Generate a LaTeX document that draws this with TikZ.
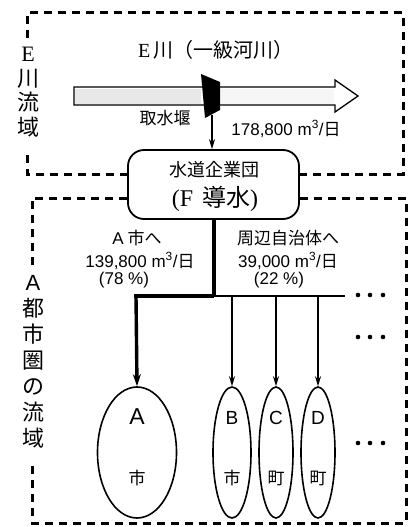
\documentclass[tikz,border=0pt]{standalone}
\usepackage{fontspec}
\setmainfont{Noto Sans CJK JP}
\newfontfamily\serif{Liberation Serif}
\newfontfamily\lat{Liberation Sans}
\usetikzlibrary{arrows.meta,shapes.geometric}
\tikzset{
  bdash/.style={line width=3pt, dash pattern=on 8pt off 6pt},
  txt/.style={inner sep=0pt, font=\fontsize{17}{17}\selectfont},
  town/.style={draw, ellipse, line width=1.6pt, minimum height=131pt, inner sep=0pt},
  feed/.style={line width=1.4pt, -{Stealth[length=10pt,width=6pt]}},
  bigfeed/.style={line width=3.4pt, -{Stealth[length=12pt,width=8pt]}},
}
\begin{document}
\begin{tikzpicture}[x=1pt,y=-1pt]
\useasboundingbox (0,0) rectangle (410,527);
% dashed catchment boxes
\draw[bdash] (27,38) -- (27,13) -- (403,13) -- (403,174) -- (300,174);
\draw[bdash] (128,174) -- (27,174) -- (27,150);
\draw[bdash] (32,265) -- (32,198) -- (128,198);
\draw[bdash] (300,198) -- (406,198) -- (406,523) -- (32,523) -- (32,462);
% side labels
\node[inner sep=0pt, align=center, font=\fontsize{22}{24.5}\selectfont] (lblE) at (28,92) {{\serif E}\\川\\流\\域};
\node[inner sep=0pt, align=center, font=\fontsize{22}{26}\selectfont] (lblA) at (33,362) {{\lat A}\\都\\市\\圏\\の\\流\\域};
% river
\node[txt, font=\fontsize{20}{20}\selectfont] (river) at (216,50) {{\serif E}\,川（一級河川）};
\draw[line width=1.3pt, fill=white] (74,87) -- (335,87) -- (335,80) -- (358,96) -- (335,112) -- (335,105) -- (74,105) -- cycle;
\fill[gray!18] (75,88.5) rectangle (201,103.5);
\fill[gray!7] (221,88.5) rectangle (334,103.5);
% weir
\fill (201,74) -- (220,82) -- (220,110) -- (205,118) -- cycle;
\coordinate (weir) at (212,115);
\node[txt] (weirlbl) at (165,118) {取水堰};
\node[txt] (flow) at (286,129) {{\lat 178,800 m\textsuperscript{3}/}日};
% water agency
\node[draw, fill=white, line width=1.8pt, rounded corners=16pt, minimum width=171pt, minimum height=69pt, inner sep=0pt] (agency) at (213.5,184.5) {};
\draw[feed] (weir) -- (agency.north -| weir);
\node[txt, font=\fontsize{18}{18}\selectfont] (ag1) at (214,170) {水道企業団};
\node[txt, font=\fontsize{24}{24}\selectfont] (ag2) at (215,199) {{\serif (F}\hspace{0.15em} 導水{\serif )}};
% split
\coordinate (j) at (214,296);
\coordinate (jA) at (136,296);
\coordinate (jB) at (232,296);
\coordinate (jC) at (276,296);
\coordinate (jD) at (318,296);
\coordinate (jE) at (345,296);
\draw[line width=3.4pt] (agency.south -| j) -- (j);
\draw[line width=3.4pt] ([xshift=-1.7pt]jA) -- (j);
\draw[line width=1.4pt] (j) -- (jE);
\node[txt] (la1) at (137,238) {{\lat A} 市へ};
\node[txt] (la2) at (140,261) {{\lat 139,800 m\textsuperscript{3}/}日};
\node[txt] (la3) at (124,280) {\lat (78 \%)};
\node[txt] (lb1) at (288,238) {周辺自治体へ};
\node[txt] (lb2) at (288,261) {{\lat 39,000 m\textsuperscript{3}/}日};
\node[txt] (lb3) at (279,280) {\lat (22 \%)};
% towns
\node[town, minimum width=79pt] (A) at (137,452.5) {};
\node[town, minimum width=38pt] (B) at (232,452.5) {};
\node[town, minimum width=34pt] (C) at (276,452.5) {};
\node[town, minimum width=34pt] (D) at (318,452.5) {};
\draw[bigfeed] (jA) -- (A.north);
\draw[feed] (jB) -- (B.north);
\draw[feed] (jC) -- (C.north);
\draw[feed] (jD) -- (D.north);
\node[txt, font=\lat\fontsize{23}{23}\selectfont] (At) at (137,417) {A};
\node[txt] (Ab) at (137,478) {市};
\node[txt, font=\lat\fontsize{19}{19}\selectfont] (Bt) at (232,418) {B};
\node[txt] (Bb) at (232,478) {市};
\node[txt, font=\lat\fontsize{19}{19}\selectfont] (Ct) at (276,418) {C};
\node[txt] (Cb) at (276,478) {町};
\node[txt, font=\lat\fontsize{19}{19}\selectfont] (Dt) at (318,418) {D};
\node[txt] (Db) at (318,478) {町};
% ellipsis dots
\foreach \yy in {295,337,443}{
  \foreach \xx in {358,370,383}{ \fill (\xx,\yy) circle (2.3pt); }
}
\end{tikzpicture}
\end{document}
